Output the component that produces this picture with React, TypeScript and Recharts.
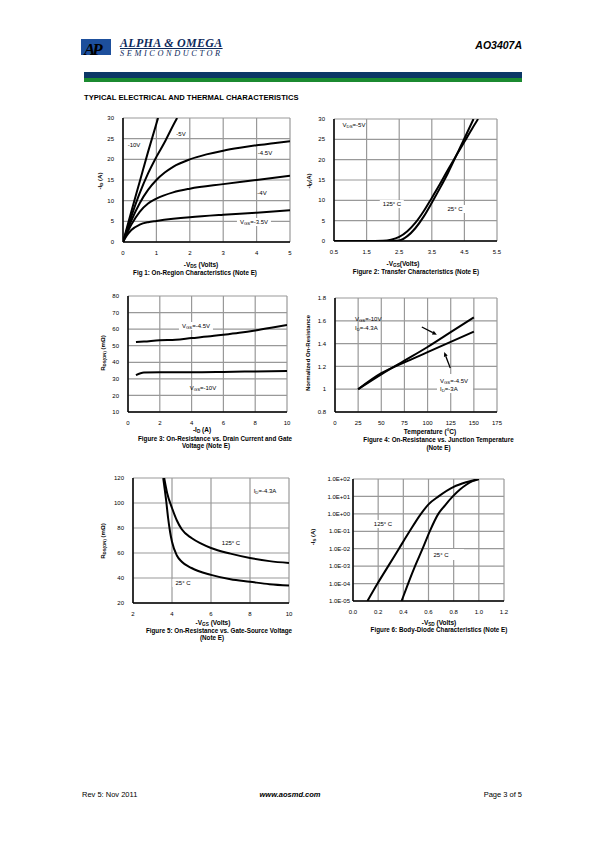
import React from 'react';
import { LineChart, Line, XAxis, YAxis, CartesianGrid, ReferenceLine } from 'recharts';

const FONT = '"Liberation Sans", Arial, sans-serif';
const SERIF = '"Liberation Serif", "Times New Roman", serif';

// Fig 1: On-region characteristics  (-VDS, -ID)
const f1XTicks = [0, 1, 2, 3, 4, 5];
const f1YTicks = [0, 5, 10, 15, 20, 25, 30];
const f1Vgs10 = [[0, 0], [0.25, 7.4], [0.5, 14.6], [0.75, 21.8], [1.05, 30]];
const f1Vgs5 = [[0, 0], [0.25, 6.2], [0.5, 11.8], [0.75, 16.6], [1, 20.6], [1.25, 24.2], [1.5, 28.2], [1.62, 30]];
const f1Vgs45 = [[0, 0], [0.25, 5.2], [0.5, 9.4], [0.75, 12.6], [1, 15], [1.25, 16.8], [1.5, 18.2], [2, 20], [2.5, 21.2], [3, 22.1], [3.5, 22.8], [4, 23.4], [4.5, 23.9], [5, 24.4]];
const f1Vgs4 = [[0, 0], [0.25, 4.2], [0.5, 7.3], [0.75, 9.3], [1, 10.5], [1.5, 12], [2, 12.9], [3, 14], [4, 15], [5, 16]];
const f1Vgs35 = [[0, 0], [0.1, 1.4], [0.25, 2.9], [0.5, 4.2], [0.75, 4.8], [1, 5.1], [1.5, 5.6], [2, 6], [3, 6.6], [4, 7.1], [5, 7.7]];

// Fig 2: Transfer characteristics (-VGS, -ID)
const f2XTicks = [0.5, 1.5, 2.5, 3.5, 4.5, 5.5];
const f2YTicks = [0, 5, 10, 15, 20, 25, 30];
const f2T125 = [[0.5, 0], [1.5, 0], [2, 0.05], [2.25, 0.3], [2.5, 1], [2.75, 2.4], [3, 4.5], [3.25, 7.3], [3.5, 10.6], [3.75, 14], [4, 17.6], [4.25, 21], [4.5, 24.4], [4.75, 27.8], [4.92, 30]];
const f2T25 = [[0.5, 0], [2, 0], [2.5, 0.15], [2.75, 1.2], [3, 3.2], [3.25, 6], [3.5, 9.4], [3.75, 13], [4, 16.8], [4.25, 21], [4.5, 25.2], [4.78, 30]];

// Fig 3: RDS(on) vs -ID
const f3XTicks = [0, 2, 4, 6, 8, 10];
const f3YTicks = [10, 20, 30, 40, 50, 60, 70, 80];
const f3Vgs45 = [[0.5, 52.2], [1, 52.5], [2, 53.3], [3, 53.6], [4, 54.6], [5, 55.5], [6, 56.6], [7, 57.8], [8, 59.2], [9, 60.8], [10, 62.5]];
const f3Vgs10 = [[0.5, 32.2], [1, 33.8], [2, 34], [4, 34], [6, 34.2], [8, 34.5], [10, 34.8]];

// Fig 4: normalized RDS(on) vs temperature
const f4XTicks = [0, 25, 50, 75, 100, 125, 150, 175];
const f4YTicks = [0.8, 1, 1.2, 1.4, 1.6, 1.8];
const f4Vgs10 = [[25, 1], [50, 1.13], [75, 1.25], [100, 1.37], [125, 1.5], [150, 1.63]];
const f4Vgs45 = [[25, 1], [50, 1.14], [75, 1.235], [100, 1.325], [125, 1.415], [150, 1.505]];

// Fig 5: RDS(on) vs -VGS
const f5XTicks = [2, 4, 6, 8, 10];
const f5YTicks = [20, 40, 60, 80, 100, 120];
const f5T125 = [[3.6, 120], [3.75, 108], [4, 96], [4.25, 86], [4.5, 79], [5, 72], [5.5, 67.5], [6, 64], [7, 59.5], [8, 56], [9, 53.5], [10, 52]];
const f5T25 = [[3.55, 120], [3.7, 102], [3.8, 88], [3.9, 77], [4, 69], [4.25, 58], [4.5, 53], [5, 48], [6, 42.5], [7, 39], [8, 37], [9, 35], [10, 34]];

// Fig 6: body diode (-VSD, -IS), log scale
const f6XTicks = [0, 0.2, 0.4, 0.6, 0.8, 1.0, 1.2];
const f6YTicks = [1e-5, 1e-4, 1e-3, 1e-2, 1e-1, 1, 10, 100];
const f6T125 = [[0.115, 1e-5], [0.195, 1e-4], [0.28, 1e-3], [0.365, 1e-2], [0.45, 1e-1], [0.54, 1], [0.6, 3.5], [0.68, 10], [0.8, 35], [0.9, 65], [1.0, 100]];
const f6T25 = [[0.386, 1e-5], [0.438, 1e-4], [0.493, 1e-3], [0.553, 1e-2], [0.61, 0.1], [0.678, 1], [0.73, 3], [0.793, 10], [0.85, 25], [0.9, 47], [0.95, 75], [1.0, 100]];

const pts = (arr: number[][]) => arr.map(([x, y]) => ({ x, y }));
const fix1 = (v: number) => v.toFixed(1);
const sci = (v: number) => {
  const e = Math.round(Math.log10(v));
  return '1.0E' + (e < 0 ? '-' : '+') + String(Math.abs(e)).padStart(2, '0');
};

const tickStyle = { fontSize: 6, fill: '#000', fontFamily: FONT };
const axisLine = { stroke: '#000', strokeWidth: 1.5 };
const XH = 16, MT = 5, MR = 10;

type Box = { x: number; y: number; w: number; h: number };

function Plot({ box, xTicks, yTicks, xFmt, yFmt, yLog, yw = 30, yMargin = 3, children }: any) {
  const b: Box = box;
  return (
    <div style={{ position: 'absolute', left: b.x - yw, top: b.y - MT }}>
      <LineChart width={b.w + yw + MR} height={b.h + MT + XH} margin={{ top: MT, right: MR, left: 0, bottom: 0 }}>
        <CartesianGrid stroke="#999" strokeWidth={1.2} />
        <XAxis dataKey="x" type="number" domain={[xTicks[0], xTicks[xTicks.length - 1]]} ticks={xTicks}
          interval={0} allowDataOverflow tickLine={false} axisLine={axisLine} tick={tickStyle}
          tickFormatter={xFmt} height={XH} tickMargin={3} />
        <YAxis type="number" domain={[yTicks[0], yTicks[yTicks.length - 1]]} ticks={yTicks}
          scale={yLog ? 'log' : 'auto'} interval={0} allowDataOverflow tickLine={false} axisLine={axisLine}
          tick={tickStyle} tickFormatter={yFmt} width={yw} tickMargin={yMargin} />
        {children}
      </LineChart>
    </div>
  );
}

const curve = (key: string, arr: number[][]) => (
  <Line key={key} data={pts(arr)} dataKey="y" type="monotone" stroke="#000" strokeWidth={2}
    dot={false} isAnimationActive={false} />
);

const Arrow = (p: any) => {
  const { x1, y1, x2, y2 } = p;
  const a = Math.atan2(y2 - y1, x2 - x1);
  const L = 4.5, W = 2;
  const bx = x2 - L * Math.cos(a), by = y2 - L * Math.sin(a);
  const px = -Math.sin(a) * W, py = Math.cos(a) * W;
  return (
    <g>
      <line x1={x1} y1={y1} x2={bx} y2={by} stroke="#000" strokeWidth={1.3} />
      <polygon points={`${x2},${y2} ${bx + px},${by + py} ${bx - px},${by - py}`} fill="#000" />
    </g>
  );
};

function T({ x, y, size = 6, bold, italic, bg, align = 'center', rotate, family, color, children, spacing }: any) {
  const tx = align === 'left' ? '0' : align === 'right' ? '-100%' : '-50%';
  return (
    <div style={{
      position: 'absolute', left: x, top: y, whiteSpace: 'nowrap', lineHeight: 1,
      fontSize: size, fontWeight: bold ? 700 : 400, fontStyle: italic ? 'italic' : 'normal',
      fontFamily: family || FONT, color: color || '#000', letterSpacing: spacing,
      background: bg ? '#fff' : 'transparent', padding: bg ? '1px 3px' : 0,
      transform: `translate(${tx}, -50%)${rotate ? ' rotate(-90deg)' : ''}`,
      transformOrigin: rotate ? 'center' : undefined,
    }}>
      {children}
    </div>
  );
}

const S = ({ children }: any) => <sub style={{ fontSize: '0.72em', verticalAlign: '-0.3em', lineHeight: 0 }}>{children}</sub>;

export default function App() {
  return (
    <div style={{ position: 'absolute', left: 0, top: 0, width: 595, height: 842, background: '#fff', fontFamily: FONT }}>
      {/* header */}
      <div style={{ position: 'absolute', left: 81, top: 39, width: 30, height: 16, background: '#1d4f9c' }} />
      <T x={84} y={49} size={17} bold italic family={SERIF} color="#000" align="left" spacing={-3}>AP</T>
      <div style={{ position: 'absolute', left: 120, top: 35.5, fontFamily: SERIF, fontStyle: 'italic', fontWeight: 700, fontSize: 12, color: '#0d2a5c', textDecoration: 'underline', letterSpacing: 0.3 }}>ALPHA &amp; OMEGA</div>
      <T x={120} y={53.5} size={8.3} italic family={SERIF} align="left" spacing={2.6} color="#0d2a5c">SEMICONDUCTOR</T>
      <T x={522} y={45} size={10.5} bold italic align="right">AO3407A</T>
      <div style={{ position: 'absolute', left: 84, top: 72, width: 438, height: 6, background: '#0b3766' }} />
      <div style={{ position: 'absolute', left: 84, top: 78, width: 438, height: 4, background: '#1b8a30' }} />
      <T x={84} y={97.5} size={7.6} bold align="left">TYPICAL ELECTRICAL AND THERMAL CHARACTERISTICS</T>

      {/* Fig 1 */}
      <Plot box={{ x: 123, y: 118, w: 167, h: 124 }} xTicks={f1XTicks} yTicks={f1YTicks}>
        {curve('v10', f1Vgs10)}
        {curve('v5', f1Vgs5)}
        {curve('v45', f1Vgs45)}
        {curve('v4', f1Vgs4)}
        {curve('v35', f1Vgs35)}
      </Plot>
      <T x={134} y={145}>-10V</T>
      <T x={181} y={134}>-5V</T>
      <T x={265} y={153}>-4.5V</T>
      <T x={262} y={193}>-4V</T>
      <T x={254} y={222} bg>V<S>GS</S>=-3.5V</T>
      <T x={100} y={181} bold rotate>-I<S>D</S> (A)</T>
      <T x={201} y={265} bold size={6.5}>-V<S>DS</S> (Volts)</T>
      <T x={195} y={272.5} bold size={6.3}>Fig 1: On-Region Characteristics (Note E)</T>

      {/* Fig 2 */}
      <Plot box={{ x: 334, y: 119, w: 163, h: 122 }} xTicks={f2XTicks} yTicks={f2YTicks} xFmt={fix1}>
        {curve('t125', f2T125)}
        {curve('t25', f2T25)}
      </Plot>
      <T x={354} y={125}>V<S>DS</S>=-5V</T>
      <T x={392} y={204} bg>125° C</T>
      <T x={455} y={209} bg>25° C</T>
      <T x={309} y={181} bold rotate>-I<S>D</S>(A)</T>
      <T x={403} y={264} bold size={6.5}>-V<S>GS</S>(Volts)</T>
      <T x={416} y={271.5} bold size={6.3}>Figure 2: Transfer Characteristics (Note E)</T>

      {/* Fig 3 */}
      <Plot box={{ x: 128, y: 296, w: 159, h: 116 }} xTicks={f3XTicks} yTicks={f3YTicks}>
        {curve('g45', f3Vgs45)}
        {curve('g10', f3Vgs10)}
      </Plot>
      <T x={196} y={326} bg>V<S>GS</S>=-4.5V</T>
      <T x={203} y={388}>V<S>GS</S>=-10V</T>
      <T x={103} y={353} bold rotate>R<S>DS(ON)</S> (mΩ)</T>
      <T x={202} y={430} bold size={6.5}>-I<S>D</S> (A)</T>
      <T x={215} y={438.5} bold size={6.3}>Figure 3: On-Resistance vs. Drain Current and Gate</T>
      <T x={206} y={446} bold size={6.3}>Voltage (Note E)</T>

      {/* Fig 4 */}
      <Plot box={{ x: 335, y: 298, w: 162, h: 114 }} xTicks={f4XTicks} yTicks={f4YTicks}>
        {curve('n10', f4Vgs10)}
        {curve('n45', f4Vgs45)}
        <ReferenceLine segment={[{ x: 93.8, y: 1.546 }, { x: 110, y: 1.478 }]} shape={Arrow} />
        <ReferenceLine segment={[{ x: 124.5, y: 1.186 }, { x: 118, y: 1.326 }]} shape={Arrow} />
      </Plot>
      <T x={355} y={318.5} align="left">V<S>GS</S>=-10V</T>
      <T x={355} y={327.5} align="left">I<S>D</S>=-4.3A</T>
      <div style={{ position: 'absolute', left: 437, top: 374, width: 36, height: 19, background: '#fff' }} />
      <T x={440} y={380.5} align="left">V<S>GS</S>=-4.5V</T>
      <T x={440} y={389} align="left">I<S>D</S>=-3A</T>
      <T x={308} y={353} bold rotate>Normalized On-Resistance</T>
      <T x={430} y={431.5} bold size={6.5}>Temperature (°C)</T>
      <T x={438.5} y={440} bold size={6.3}>Figure 4: On-Resistance vs. Junction Temperature</T>
      <T x={438.5} y={447.5} bold size={6.3}>(Note E)</T>

      {/* Fig 5 */}
      <Plot box={{ x: 133, y: 478, w: 156, h: 125 }} xTicks={f5XTicks} yTicks={f5YTicks}>
        {curve('r125', f5T125)}
        {curve('r25', f5T25)}
      </Plot>
      <T x={265} y={491}>I<S>D</S>=-4.3A</T>
      <T x={231} y={543}>125° C</T>
      <T x={183} y={583} bg>25° C</T>
      <T x={103} y={541} bold rotate>R<S>DS(ON)</S> (mΩ)</T>
      <T x={213} y={623} bold size={6.5}>-V<S>GS</S> (Volts)</T>
      <T x={219} y={630.5} bold size={6.3}>Figure 5: On-Resistance vs. Gate-Source Voltage</T>
      <T x={212} y={638} bold size={6.3}>(Note E)</T>

      {/* Fig 6 */}
      <Plot box={{ x: 353, y: 479, w: 151, h: 122 }} xTicks={f6XTicks} yTicks={f6YTicks} xFmt={fix1} yFmt={sci} yLog yw={44} yMargin={-3}>
        {curve('d125', f6T125)}
        {curve('d25', f6T25)}
      </Plot>
      <T x={383} y={523.5} bg>125° C</T>
      <div style={{ position: 'absolute', left: 430, top: 549, width: 34, height: 11, background: '#fff' }} />
      <T x={441} y={554.5}>25° C</T>
      <T x={313} y={537} bold rotate>-I<S>S</S> (A)</T>
      <T x={439} y={623} bold size={6.5}>-V<S>SD</S> (Volts)</T>
      <T x={439} y={630} bold size={6.3}>Figure 6: Body-Diode Characteristics (Note E)</T>

      {/* footer */}
      <T x={82} y={795} size={7.5} align="left">Rev 5: Nov 2011</T>
      <T x={290} y={795} size={7.5} bold italic>www.aosmd.com</T>
      <T x={522} y={795} size={7.5} align="right">Page 3 of 5</T>
    </div>
  );
}
